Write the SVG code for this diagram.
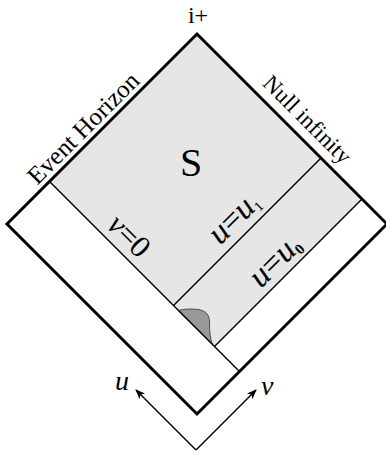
<svg xmlns="http://www.w3.org/2000/svg" width="386" height="455" viewBox="0 0 386 455">
<style>
text{font-family:"Liberation Serif","Times New Roman",serif;fill:#000}
.it{font-style:italic}
.thin{stroke:#000;stroke-width:1.5;fill:none}
.thick{stroke:#000;stroke-width:3;fill:none;stroke-linejoin:miter}
.arr{stroke:#000;stroke-width:1.4;fill:none}
</style>
<defs>
<marker id="ah" viewBox="0 0 10 8" refX="9" refY="4" markerWidth="10" markerHeight="8" markerUnits="userSpaceOnUse" orient="auto">
<path d="M0,0 L10,4 L0,8 L2.5,4 Z" fill="#000"/>
</marker>
</defs>
<g id="region-S">
<polygon points="197,34 49.5,181.5 214.5,346.5 362,199" fill="#e6e6e6"/>
<path d="M178,310.5 C184,309 190,308.5 198,309.5 C206,310.5 209.5,315 209.5,322 C209.5,331 210,338 212.5,344.5 Z" fill="#999" stroke="#333" stroke-width="0.8"/>
</g>
<g id="connectors">
<line class="thin" x1="49.5" y1="181.5" x2="239.5" y2="371.5"/>
<line class="thin" x1="321" y1="158" x2="173.5" y2="305.5"/>
<line class="thin" x1="362" y1="199" x2="214.5" y2="346.5"/>
<line class="arr" x1="196" y1="450" x2="136" y2="390" marker-end="url(#ah)"/>
<line class="arr" x1="196" y1="450" x2="256" y2="390" marker-end="url(#ah)"/>
</g>
<g id="diagram-border">
<polygon class="thick" points="197,34 387,224 197,414 7,224"/>
</g>
<g id="labels">
<text x="198" y="23" font-size="24" text-anchor="middle">i+</text>
<text x="191" y="176" font-size="40" text-anchor="middle">S</text>
<text x="89" y="134" font-size="25" text-anchor="middle" transform="rotate(-45 89 134)">Event Horizon</text>
<text x="302" y="125" font-size="23" text-anchor="middle" transform="rotate(45 302 125)">Null infinity</text>
<text x="122" y="243" font-size="31" text-anchor="middle" transform="rotate(45 122 243)"><tspan class="it">v</tspan>=0</text>
<text x="241" y="225" font-size="33" text-anchor="middle" transform="rotate(-45 241 225)"><tspan class="it">u</tspan>=<tspan class="it">u</tspan><tspan font-size="14" dy="4">1</tspan></text>
<text x="282" y="268" font-size="33" text-anchor="middle" transform="rotate(-45 282 268)"><tspan class="it">u</tspan>=<tspan class="it">u</tspan><tspan font-size="15" dy="4" font-weight="bold">0</tspan></text>
<text x="115" y="390" font-size="28" class="it">u</text>
<text x="261" y="395" font-size="28" class="it">v</text>
</g>
</svg>
